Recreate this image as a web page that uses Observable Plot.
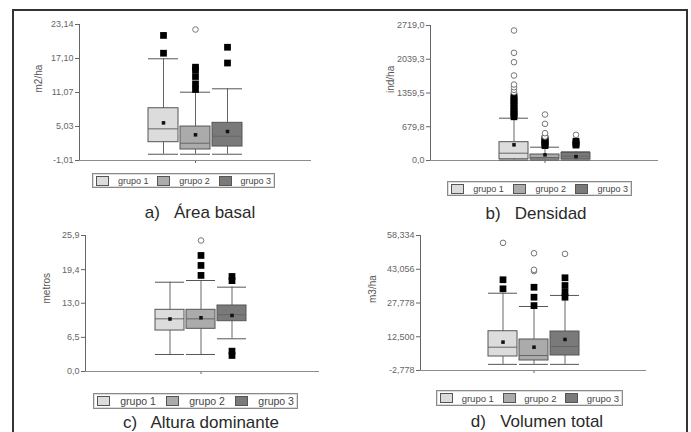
<!DOCTYPE html>
<html><head><meta charset="utf-8">
<script src="https://cdn.jsdelivr.net/npm/d3@7"></script>
<script src="https://cdn.jsdelivr.net/npm/@observablehq/plot@0.6"></script>
<style>
html,body{margin:0;padding:0;background:#fff;overflow:hidden;}
#root{position:relative;width:691px;height:432px;overflow:hidden;font-family:"Liberation Sans",Arial,sans-serif;}
#frame{position:absolute;left:12px;top:9px;width:676px;height:440px;border:2px solid #333;box-sizing:border-box;}
.panel{position:absolute;}
.panel svg{overflow:visible;}
.legend{position:absolute;border:1px solid #8a8a8a;box-shadow:inset 0 0 0 1px #dcdcdc;box-sizing:border-box;display:flex;align-items:center;justify-content:space-between;padding:0 3px;color:#444;background:#fff;}
.sw{width:13px;height:10px;border:1px solid #555;box-sizing:border-box;}
.caption{position:absolute;font-size:17px;line-height:1;color:#2a2a2a;white-space:pre;transform:translate(-50%,-50%);}
</style></head><body><div id="root"><div id="frame"></div></div>
<script>
// ---- data ----
const groups = ["grupo 1", "grupo 2", "grupo 3"];
const fills = ["#dcdcdc", "#ababab", "#7a7a7a"];

// a) Área basal
const aLabel = "m2/ha";
const aLow = [0.1, 0.1, 0.1];
const aQ1 = [2.24, 0.94, 1.47];
const aMed = [4.61, 2.06, 3.30];
const aQ3 = [8.27, 5.02, 5.68];
const aHigh = [17.05, 11.12, 11.72];
const aMean = [5.67, 3.55, 4.14];
const aSquares = [[21.2, 18.04], [11.6, 12.6, 13.9, 15.1, 15.56], [16.3, 19.1]];
const aCircles = [[], [22.25], []];
const aTicks = [-1.01, 5.03, 11.07, 17.10, 23.14];
const aTickLabels = ["-1,01", "5,03", "11,07", "17,10", "23,14"];
const aCaption = "a)   Área basal";

// b) Densidad
const bLabel = "ind/ha";
const bLow = [10, 10, 10];
const bQ1 = [25, 20, 20];
const bMed = [147, 60, 87];
const bQ3 = [369, 121, 150];
const bHigh = [852, 268, 175];
const bMean = [316, 114, 80];
const bSquares = [[880, 920, 960, 1000, 1050, 1100, 1150, 1200, 1250, 1290], [300, 320, 350, 380, 410, 440], [310, 330, 360, 390]];
const bCircles = [[1376, 1424, 1476, 1530, 1712, 1980, 2169, 2618], [483, 550, 738, 926], [517]];
const bTicks = [0, 679.8, 1359.5, 2039.3, 2719.0];
const bTickLabels = ["0,0", "679,8", "1359,5", "2039,3", "2719,0"];
const bCaption = "b)   Densidad";

// c) Altura dominante
const cLabel = "metros";
const cLow = [3.24, 3.24, 6.23];
const cQ1 = [7.8, 8.13, 9.58];
const cMed = [10.03, 10.03, 10.8];
const cQ3 = [11.75, 11.75, 12.57];
const cHigh = [17.0, 17.33, 16.06];
const cMean = [10.0, 10.23, 10.67];
const cSquares = [[], [18.3, 20.2, 22.1], [17.3, 18.1, 3.05, 3.87]];
const cCircles = [[], [24.95], []];
const cTicks = [0, 6.5, 13.0, 19.4, 25.9];
const cTickLabels = ["0,0", "6,5", "13,0", "19,4", "25,9"];
const cCaption = "c)   Altura dominante";

// d) Volumen total
const dLabel = "m3/ha";
const dLow = [0, 0, 0];
const dQ1 = [3.56, 1.75, 4.01];
const dMed = [7.77, 4.0, 8.08];
const dQ3 = [15.0, 11.26, 14.87];
const dHigh = [32.2, 26.2, 31.2];
const dMean = [10.07, 7.77, 11.26];
const dSquares = [[34.2, 38.3], [26.6, 30.4, 34.9], [30.4, 32.7, 35.7, 39.2]];
const dCircles = [[55.0], [42.2, 42.8, 50.3], [50.0]];
const dTicks = [-2.778, 12.5, 27.778, 43.056, 58.334];
const dTickLabels = ["-2,778", "12,500", "27,778", "43,056", "58,334"];
const dCaption = "d)   Volumen total";

// ---- drawing ----
const root = document.getElementById("root");

function boxPanel(d, L) {
  const stats = groups.map((g, i) => ({g, low: d.low[i], q1: d.q1[i], med: d.med[i], q3: d.q3[i], high: d.high[i], mean: d.mean[i]}));
  const sq = groups.flatMap((g, i) => d.squares[i].map(v => ({g, v})));
  const ci = groups.flatMap((g, i) => d.circles[i].map(v => ({g, v})));
  const mL = 60, mR = 8, mT = 8, mB = 8;
  const ticks = d.ticks;
  const svg = Plot.plot({
    width: L.axisEnd - L.axisX + mL + mR,
    height: L.base - L.top + mT + mB,
    marginLeft: mL, marginRight: mR, marginTop: mT, marginBottom: mB,
    style: {fontFamily: "Liberation Sans, Arial, sans-serif", fontSize: "9px", color: "#666", background: "transparent"},
    x: {type: "band", domain: groups, paddingInner: 0.06, paddingOuter: 0,
        insetLeft: L.boxL - L.axisX, insetRight: L.axisEnd - L.boxR,
        ticks: [groups[1]], tickFormat: () => "", tickSize: 3, label: null},
    y: {domain: [ticks[0], ticks[ticks.length - 1]], ticks: ticks,
        tickFormat: v => d.tickLabels[ticks.indexOf(v)], tickSize: 4, tickPadding: 2, line: true, label: null},
    color: {domain: groups, range: fills},
    marks: [
      Plot.text([d.label], {text: t => t, frameAnchor: "left", rotate: -90, dx: -L.labelOffset, fontSize: 10, fill: "#555"}),
      Plot.ruleY([ticks[0]], {stroke: "#8c8c8c"}),
      Plot.ruleX(stats, {x: "g", y1: "low", y2: "high", stroke: "#666"}),
      Plot.tickY(stats, {x: "g", y: "low", stroke: "#555"}),
      Plot.tickY(stats, {x: "g", y: "high", stroke: "#555"}),
      Plot.barY(stats, {x: "g", y1: "q1", y2: "q3", fill: "g", stroke: "#555"}),
      Plot.tickY(stats, {x: "g", y: "med", stroke: "#666"}),
      Plot.dot(stats, {x: "g", y: "mean", symbol: "square", fill: "#111", r: 2}),
      Plot.dot(sq, {x: "g", y: "v", symbol: "square", fill: "#000", r: 3.8}),
      Plot.dot(ci, {x: "g", y: "v", r: 2.8, stroke: "#777", fill: "white", strokeWidth: 1})
    ]
  });
  const wrap = document.createElement("div");
  wrap.className = "panel";
  wrap.style.left = (L.axisX - mL) + "px";
  wrap.style.top = (L.top - mT) + "px";
  wrap.appendChild(svg);
  root.appendChild(wrap);

  const lg = document.createElement("div");
  lg.className = "legend";
  Object.assign(lg.style, {left: L.lg[0] + "px", top: L.lg[1] + "px", width: L.lg[2] + "px", height: L.lg[3] + "px", fontSize: L.lgFont + "px"});
  groups.forEach((g, i) => {
    const s = document.createElement("div");
    s.className = "sw";
    s.style.background = fills[i];
    const t = document.createElement("span");
    t.textContent = g;
    lg.appendChild(s); lg.appendChild(t);
  });
  root.appendChild(lg);

  const cap = document.createElement("div");
  cap.className = "caption";
  cap.textContent = d.caption;
  cap.style.left = L.cap[0] + "px";
  cap.style.top = L.cap[1] + "px";
  root.appendChild(cap);
}

boxPanel({label: aLabel, low: aLow, q1: aQ1, med: aMed, q3: aQ3, high: aHigh, mean: aMean, squares: aSquares, circles: aCircles, ticks: aTicks, tickLabels: aTickLabels, caption: aCaption},
  {axisX: 79, axisEnd: 311, top: 24, base: 160, boxL: 147, boxR: 243, labelOffset: 41, lg: [92, 173, 183, 15], lgFont: 9, cap: [200, 212]});
boxPanel({label: bLabel, low: bLow, q1: bQ1, med: bMed, q3: bQ3, high: bHigh, mean: bMean, squares: bSquares, circles: bCircles, ticks: bTicks, tickLabels: bTickLabels, caption: bCaption},
  {axisX: 430, axisEnd: 658, top: 25, base: 160, boxL: 498, boxR: 592, labelOffset: 40, lg: [447, 181, 185, 15], lgFont: 9, cap: [536, 213]});
boxPanel({label: cLabel, low: cLow, q1: cQ1, med: cMed, q3: cQ3, high: cHigh, mean: cMean, squares: cSquares, circles: cCircles, ticks: cTicks, tickLabels: cTickLabels, caption: cCaption},
  {axisX: 85, axisEnd: 319, top: 235, base: 371, boxL: 154, boxR: 248, labelOffset: 39, lg: [93, 393, 205, 16], lgFont: 10.5, cap: [201, 422]});
boxPanel({label: dLabel, low: dLow, q1: dQ1, med: dMed, q3: dQ3, high: dHigh, mean: dMean, squares: dSquares, circles: dCircles, ticks: dTicks, tickLabels: dTickLabels, caption: dCaption},
  {axisX: 420, axisEnd: 646, top: 235, base: 370, boxL: 487, boxR: 581, labelOffset: 48, lg: [436, 390, 187, 16], lgFont: 9.5, cap: [537, 421]});
</script>
</body></html>
